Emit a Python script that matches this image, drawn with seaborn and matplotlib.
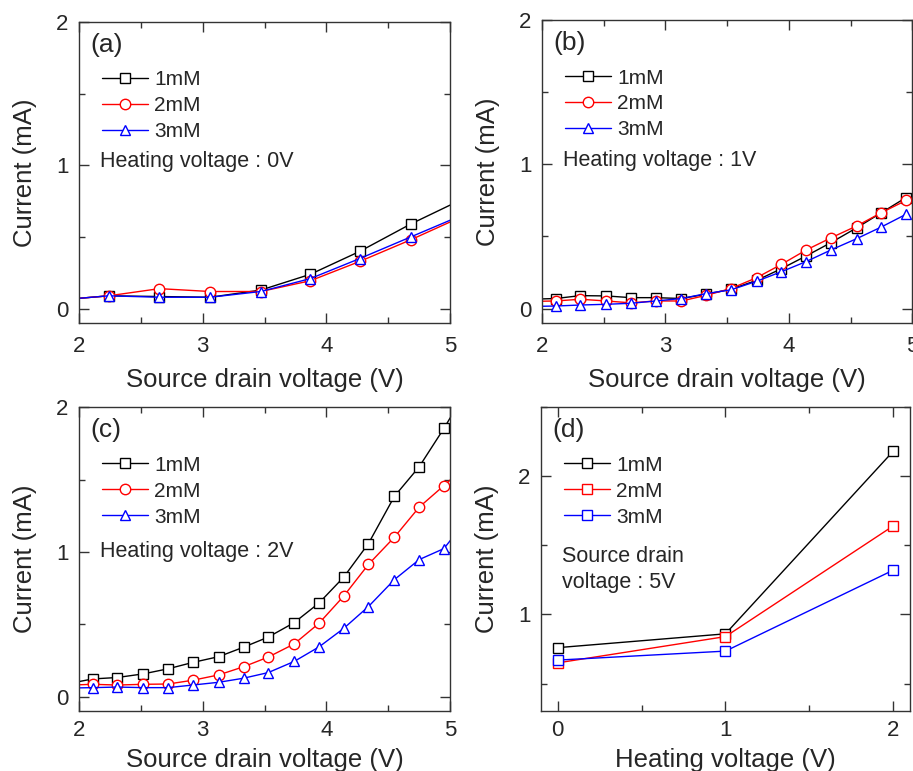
import matplotlib
matplotlib.use('Agg')
import pandas as pd
import seaborn as sns
import matplotlib.pyplot as plt
from matplotlib.ticker import MultipleLocator

# concentrations and colours
concs = ['1mM', '2mM', '3mM']
colors = ['black', 'red', 'blue']

# (a) heating voltage 0 V
vsd_a = [1.83, 2.24, 2.65, 3.06, 3.47, 3.87, 4.27, 4.68, 5.09]
a_1mM = [0.06, 0.09, 0.085, 0.08, 0.13, 0.24, 0.40, 0.59, 0.76]
a_2mM = [0.06, 0.09, 0.14, 0.12, 0.12, 0.195, 0.33, 0.48, 0.64]
a_3mM = [0.06, 0.09, 0.08, 0.08, 0.12, 0.21, 0.35, 0.50, 0.65]

# (b) heating voltage 1 V
vsd_b = [1.91, 2.11, 2.31, 2.52, 2.72, 2.92, 3.13, 3.33, 3.53, 3.74,
         3.94, 4.14, 4.34, 4.55, 4.75, 4.95]
b_1mM = [0.065, 0.07, 0.09, 0.088, 0.076, 0.076, 0.07, 0.10, 0.134, 0.196,
         0.277, 0.365, 0.457, 0.56, 0.665, 0.77]
b_2mM = [0.05, 0.053, 0.065, 0.053, 0.04, 0.053, 0.053, 0.092, 0.139, 0.215,
         0.307, 0.406, 0.49, 0.573, 0.665, 0.75]
b_3mM = [0.015, 0.018, 0.025, 0.03, 0.037, 0.053, 0.07, 0.104, 0.13, 0.19,
         0.256, 0.326, 0.406, 0.485, 0.566, 0.654]

# (c) heating voltage 2 V
vsd_c = [1.91, 2.11, 2.31, 2.52, 2.72, 2.92, 3.13, 3.33, 3.53, 3.74,
         3.94, 4.14, 4.34, 4.55, 4.75, 4.95, 5.15]
c_1mM = [0.09, 0.123, 0.133, 0.158, 0.193, 0.237, 0.277, 0.342, 0.412, 0.512,
         0.647, 0.826, 1.058, 1.384, 1.588, 1.853, 2.14]
c_2mM = [0.08, 0.086, 0.081, 0.086, 0.088, 0.114, 0.151, 0.207, 0.274, 0.365,
         0.507, 0.695, 0.914, 1.102, 1.309, 1.458, 1.61]
c_3mM = [0.06, 0.063, 0.067, 0.063, 0.063, 0.081, 0.10, 0.128, 0.167, 0.244,
         0.344, 0.472, 0.623, 0.809, 0.947, 1.023, 1.24]

# (d) source drain voltage 5 V
heat_v = [0, 1, 2]
d_1mM = [0.76, 0.86, 2.18]
d_2mM = [0.65, 0.84, 1.64]
d_3mM = [0.67, 0.735, 1.32]

sns.set_style('ticks')
plt.rcParams['font.family'] = ['Liberation Sans', 'DejaVu Sans']


def long_table(x, series):
    rows = []
    for name, vals in zip(concs, series):
        for xv, yv in zip(x, vals):
            rows.append({'x': xv, 'y': yv, 'conc': name})
    return pd.DataFrame(rows)


def panel(rect, x, series, markers, msize, xlabel, xlim, ylim, tag, note, note_y,
          xpad, xlabelpad):
    ax = fig.add_axes(rect)
    df = long_table(x, series)
    sns.lineplot(data=df, x='x', y='y', hue='conc', style='conc',
                 palette=dict(zip(concs, colors)),
                 markers=dict(zip(concs, markers)), dashes=False,
                 markersize=msize, markerfacecolor='white',
                 markeredgecolor='auto', markeredgewidth=1.0,
                 linewidth=1.0, ax=ax)
    ax.set_xlim(xlim)
    ax.set_ylim(ylim)
    ax.xaxis.set_major_locator(MultipleLocator(1))
    ax.xaxis.set_minor_locator(MultipleLocator(0.5))
    ax.yaxis.set_major_locator(MultipleLocator(1))
    ax.yaxis.set_minor_locator(MultipleLocator(0.5))
    ax.tick_params(which='both', direction='in', top=True, right=True,
                   width=1, color='#333333', labelsize=16)
    ax.tick_params(axis='x', which='major', pad=xpad)
    ax.tick_params(axis='y', which='major', pad=7.5)
    ax.tick_params(which='major', length=7)
    ax.tick_params(which='minor', length=4)
    for s in ax.spines.values():
        s.set_color('#333333')
        s.set_linewidth(1.0)
    ax.set_xlabel(xlabel, fontsize=18.5, labelpad=xlabelpad)
    ax.set_ylabel('Current (mA)', fontsize=18.5, labelpad=14)
    ax.legend(loc='upper left', bbox_to_anchor=(0.062, 0.84), frameon=False,
              fontsize=15, handlelength=2.2, handletextpad=0.3,
              labelspacing=0.33, borderpad=0, borderaxespad=0)
    ax.text(0.03, 0.925, tag, transform=ax.transAxes, fontsize=19,
            va='center', ha='left')
    ax.text(0.057, note_y, note, transform=ax.transAxes, fontsize=15.5,
            va='center', ha='left', linespacing=1.3)
    return ax


fig = plt.figure(figsize=(9.13, 7.71), dpi=100)

panel([0.0865, 0.581, 0.4065, 0.3905], vsd_a, [a_1mM, a_2mM, a_3mM],
      ['s', 'o', '^'], 7.5, 'Source drain voltage (V)', (2, 5), (-0.1, 2),
      '(a)', 'Heating voltage : 0V', 0.535, 9, 8)
panel([0.5937, 0.581, 0.4055, 0.3930], vsd_b, [b_1mM, b_2mM, b_3mM],
      ['s', 'o', '^'], 7.5, 'Source drain voltage (V)', (2, 5), (-0.1, 2),
      '(b)', 'Heating voltage : 1V', 0.535, 9, 8)
panel([0.0865, 0.0775, 0.4065, 0.3945], vsd_c, [c_1mM, c_2mM, c_3mM],
      ['s', 'o', '^'], 7.5, 'Source drain voltage (V)', (2, 5), (-0.1, 2),
      '(c)', 'Heating voltage : 2V', 0.525, 6, 5)
panel([0.5926, 0.0775, 0.4040, 0.3945], heat_v, [d_1mM, d_2mM, d_3mM],
      ['s', 's', 's'], 6.5, 'Heating voltage (V)', (-0.1, 2.1), (0.3, 2.5),
      '(d)', 'Source drain\nvoltage : 5V', 0.465, 6, 5)

fig.savefig('out.png', dpi=100)
